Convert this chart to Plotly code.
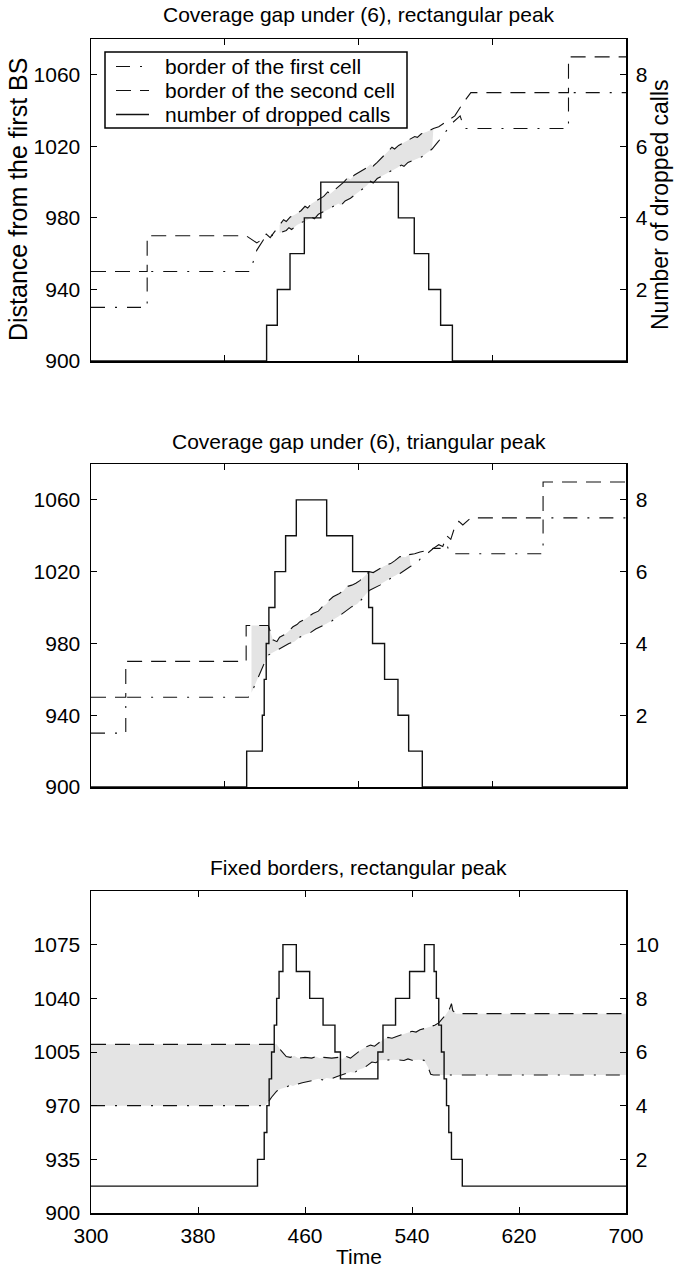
import plotly.graph_objects as go

# ---------------- data ----------------
# Panel 1: coverage gap under (6), rectangular peak
P1_FIRST_T = [300, 342, 342, 419, 424, 430, 433, 436, 441, 446, 448, 450, 454, 458, 462, 465, 467, 470, 474, 478,
              482, 485, 487, 490, 494, 498, 502, 506, 509, 511, 514, 519, 524, 529, 532, 534, 537, 542, 547, 551,
              555, 560, 565, 570, 576, 579, 657, 657, 700]
P1_FIRST_D = [930, 930, 950, 950, 962, 969, 971, 970, 971.5, 973, 974.5, 973.5, 976, 977.5, 979, 980.5, 979.5, 982, 983.5, 985,
              986.5, 988, 987, 989.5, 991, 993, 995.5, 998, 1000.5, 999.5, 1002, 1004, 1006, 1008, 1009.5, 1008.8, 1011, 1012.5, 1014, 1016,
              1018.5, 1023, 1028, 1033, 1037, 1030, 1030, 1050, 1050]
P1_SECOND_T = [300, 342, 342, 416, 424, 428, 431, 434, 437, 441, 444, 446, 449, 453, 457, 460, 462, 465, 470, 474,
               477, 479, 482, 486, 489, 492, 494, 497, 502, 506, 509, 511, 514, 518, 522, 525, 527, 530, 535, 539,
               542, 544, 547, 552, 556, 560, 566, 572, 578, 584, 657, 657, 700]
P1_SECOND_D = [950, 950, 970, 970, 966, 968, 971, 969, 972, 976, 979, 978, 980.5, 982, 984, 986.5, 985.5, 988, 990, 992,
               994.5, 993.5, 995.5, 998, 1000, 1002.5, 1001.5, 1004, 1006, 1008, 1010, 1009, 1011, 1014, 1017, 1019.5, 1018.5, 1020.5, 1022.5, 1024,
               1025.5, 1025, 1027, 1028.5, 1030, 1031, 1034, 1037, 1044, 1050, 1050, 1070, 1070]
P1_GAP = (441, 557)
P1_DROP_T = [300, 431.3, 439.3, 448.8, 459.5, 471.8, 529.8, 541.7, 552.5, 561.4, 570.2, 700]
P1_DROP_N = [0, 1, 2, 3, 4, 5, 4, 3, 2, 1, 0, 0]

# Panel 2: coverage gap under (6), triangular peak
P2_FIRST_T = [300, 326, 326, 417.6, 420, 423, 426, 429, 432.6, 436, 441, 445, 448, 452, 456, 460, 464, 468, 472, 476,
              480, 485, 490, 495, 499, 503, 508, 512, 516, 520, 524, 528, 531, 535, 539, 543, 547, 552, 556, 560,
              564, 566, 568, 570, 638, 638, 700]
P2_FIRST_D = [930, 930, 950, 950, 952.5, 958, 963, 968, 973.5, 975, 977, 978.5, 980, 981, 983.5, 985, 986, 988, 989.5, 991,
              992.5, 995, 998, 1000.5, 1002, 1005, 1009.5, 1011, 1012.5, 1014.5, 1016.5, 1018, 1019, 1021, 1023, 1024, 1028, 1030.5, 1033, 1033,
              1033, 1035, 1031, 1030, 1030, 1050, 1050]
P2_SECOND_T = [300, 326, 326, 416, 416, 420, 432.6, 436, 439, 441, 445, 448, 451, 454, 456, 460, 463, 466, 470, 473,
               476, 478, 481, 485, 489, 491, 495, 498, 501, 504, 506, 508, 511, 514, 516, 519, 521, 524, 527, 531,
               535, 538, 542, 546, 550, 553, 556, 560, 563, 566, 569, 572, 575, 578, 584, 638, 638, 700]
P2_SECOND_D = [950, 950, 970, 970, 990, 990, 990, 982, 981, 983.5, 985, 987, 989.3, 990.5, 992, 993.5, 995, 996.7, 998, 1000.5,
               1002, 1004, 1006, 1007.5, 1009.5, 1011.6, 1012.5, 1013.5, 1015, 1017.2, 1019, 1020, 1019.5, 1021, 1022, 1023, 1023.7, 1024.5, 1026, 1028.4,
               1028, 1029.5, 1030, 1031, 1031.5, 1032.5, 1033, 1035, 1034, 1040, 1038, 1045, 1048, 1046, 1050, 1050, 1070, 1070]
P2_GAP = (420, 540)
P2_DROP_T = [300, 416.4, 428.1, 429.5, 431, 433, 437.5, 445.5, 453.5, 476.2, 495.6, 507.6, 510.5, 519.5, 529.5, 537.5, 547.7, 700]
P2_DROP_N = [0, 1, 2, 3, 4, 5, 6, 7, 8, 7, 6, 5, 4, 3, 2, 1, 0, 0]

# Panel 3: fixed borders, rectangular peak
P3_FIRST_T = [300, 430, 432.6, 435, 438.8, 442, 446, 449, 451, 454, 458, 462, 466, 470, 473, 476, 480, 484, 488, 491,
              494, 497, 500, 504, 507, 510, 513, 516, 522, 528, 534, 537, 540, 545, 549, 552, 554, 556, 700]
P3_FIRST_D = [970, 970, 972.4, 975.5, 979.5, 981, 982, 983.5, 982.8, 984, 985, 986, 986.5, 987.5, 986.8, 988, 987.6, 989, 990, 991,
              992, 991.5, 993.5, 994.5, 996.5, 998.5, 998, 999.6, 999.8, 1000, 999.5, 1000.5, 999.6, 1000, 999.6, 995, 990.5, 990, 990]
P3_SECOND_T = [300, 438.8, 442, 446, 449, 452, 455, 460, 465, 468, 471, 474, 480, 485, 488, 491, 494, 498, 502, 506,
               509, 512, 515, 519, 522, 525, 528, 533, 537, 540, 543, 546, 550, 554, 557, 560, 565, 568, 569.5, 570.5,
               573, 700]
P3_SECOND_D = [1010, 1010, 1006, 1002, 1001.5, 1002.5, 1001, 1001.5, 1001, 1002, 1001, 1001.5, 1001, 1001.5, 1000.5, 1002, 1001, 1004, 1006.5, 1008.5,
               1009.5, 1008.8, 1011, 1013.5, 1014.5, 1014, 1015, 1016.5, 1017.5, 1018.5, 1018, 1019.5, 1020.5, 1021.5, 1022.5, 1024, 1029, 1033, 1036.5, 1032,
               1030, 1030]
P3_GAP = (300, 700)
P3_DROP_T = [300, 424.5, 429.5, 431.5, 433.2, 435, 437, 438.8, 440.6, 443.5, 453.5, 463.5, 473.5, 482.4, 486.5,
             514.5, 518.3, 527.7, 538.2, 549.4, 556.5, 558.2, 560, 562, 564, 565.8, 567.5, 569.5, 577.6, 700]
P3_DROP_N = [1, 2, 3, 4, 5, 6, 7, 8, 9, 10, 9, 8, 7, 6, 5,
             6, 7, 8, 9, 10, 9, 8, 7, 6, 5, 4, 3, 2, 1, 1]

TITLES = ["Coverage gap under (6), rectangular peak",
          "Coverage gap under (6), triangular peak",
          "Fixed borders, rectangular peak"]
LEGEND_NAMES = ["border of the first cell", "border of the second cell", "number of dropped calls"]
Y_LABEL_LEFT = "Distance from the first BS"
Y_LABEL_RIGHT = "Number of dropped calls"
X_LABEL = "Time"

X_RANGE = [300, 700]
X_TICKS_TOP = [400, 500, 600]
X_TICKS_BOTTOM = [300, 380, 460, 540, 620, 700]
Y_RANGE_12 = [900, 1080]
Y2_RANGE_12 = [0, 9]
Y_TICKS_12 = [900, 940, 980, 1020, 1060]
Y2_TICKS_12 = [2, 4, 6, 8]
Y_RANGE_3 = [900, 1110]
Y2_RANGE_3 = [0, 12]
Y_TICKS_3 = [900, 935, 970, 1005, 1040, 1075]
Y2_TICKS_3 = [2, 4, 6, 8, 10]

# ---------------- layout geometry (pixels) ----------------
W, H = 675, 1273
PL, PR = 91, 626
PANEL_PX = [(39, 361), (464, 787), (891, 1213)]
FONT = "Liberation Sans"
FS = 21
INK = "#111111"
GAP_FILL = "#e4e4e4"
DASH_FIRST = "14px,10px,2px,10px"
DASH_SECOND = "15px,9px"
STYLES = [dict(color=INK, width=1.1, dash=DASH_FIRST),
          dict(color=INK, width=1.1, dash=DASH_SECOND),
          dict(color=INK, width=1.4, dash="solid")]


def fx(p):
    return p / W


def fy(p):
    return 1 - p / H


def band(tu, yu, tl, yl, lim):
    a, b = lim
    up = [(t, v) for t, v in zip(tu, yu) if a <= t <= b]
    lo = [(t, v) for t, v in zip(tl, yl) if a <= t <= b]
    xs = [t for t, _ in up] + [t for t, _ in reversed(lo)]
    ys = [v for _, v in up] + [v for _, v in reversed(lo)]
    return xs, ys


panels = [
    (P1_FIRST_T, P1_FIRST_D, P1_SECOND_T, P1_SECOND_D, P1_GAP, P1_DROP_T, P1_DROP_N),
    (P2_FIRST_T, P2_FIRST_D, P2_SECOND_T, P2_SECOND_D, P2_GAP, P2_DROP_T, P2_DROP_N),
    (P3_FIRST_T, P3_FIRST_D, P3_SECOND_T, P3_SECOND_D, P3_GAP, P3_DROP_T, P3_DROP_N),
]

fig = go.Figure()
for k, (ft, fd, st, sd, gap, dt, dn) in enumerate(panels):
    xa = "x" if k == 0 else f"x{k + 1}"
    ya = "y" if k == 0 else f"y{2 * k + 1}"
    yb = f"y{2 * k + 2}"
    gx, gy = band(st, sd, ft, fd, gap)
    fig.add_trace(go.Scatter(x=gx, y=gy, mode="lines", fill="toself", fillcolor=GAP_FILL,
                             line=dict(width=0, color=GAP_FILL), xaxis=xa, yaxis=ya,
                             showlegend=False, hoverinfo="skip"))
    fig.add_trace(go.Scatter(x=ft, y=fd, mode="lines", name=LEGEND_NAMES[0], line=STYLES[0],
                             xaxis=xa, yaxis=ya, showlegend=False, hoverinfo="skip"))
    fig.add_trace(go.Scatter(x=st, y=sd, mode="lines", name=LEGEND_NAMES[1], line=STYLES[1],
                             xaxis=xa, yaxis=ya, showlegend=False, hoverinfo="skip"))
    fig.add_trace(go.Scatter(x=dt, y=dn, mode="lines", name=LEGEND_NAMES[2], line_shape="hv",
                             line=STYLES[2], xaxis=xa, yaxis=yb, showlegend=False, hoverinfo="skip"))

axis_common = dict(showline=True, linecolor="black", linewidth=1.5, ticks="inside", ticklen=6,
                   tickwidth=1, tickcolor="black", showgrid=False, zeroline=False, automargin=False,
                   tickfont=dict(family=FONT, size=FS, color="black"), fixedrange=True)

layout = dict(width=W, height=H, margin=dict(l=0, r=0, t=0, b=0, pad=0),
              paper_bgcolor="white", plot_bgcolor="white", template="none", showlegend=False,
              font=dict(family=FONT, size=FS, color="black"))

for k in range(3):
    top, bot = PANEL_PX[k]
    xname = "xaxis" if k == 0 else f"xaxis{k + 1}"
    yname = "yaxis" if k == 0 else f"yaxis{2 * k + 1}"
    y2name = f"yaxis{2 * k + 2}"
    yref = "y" if k == 0 else f"y{2 * k + 1}"
    xref = "x" if k == 0 else f"x{k + 1}"
    last = k == 2
    layout[xname] = dict(axis_common, domain=[fx(PL), fx(PR)], anchor=yref, range=X_RANGE,
                         tickvals=X_TICKS_BOTTOM if last else X_TICKS_TOP,
                         showticklabels=last, mirror="ticks", ticklabelstandoff=3)
    layout[yname] = dict(axis_common, domain=[fy(bot), fy(top)], anchor=xref,
                         range=Y_RANGE_3 if last else Y_RANGE_12,
                         tickvals=Y_TICKS_3 if last else Y_TICKS_12, ticklabelstandoff=5)
    layout[y2name] = dict(axis_common, overlaying=yref, anchor=xref, side="right",
                          range=Y2_RANGE_3 if last else Y2_RANGE_12,
                          tickvals=Y2_TICKS_3 if last else Y2_TICKS_12, ticklabelstandoff=4)

# legend box drawn in panel 1 (paper coordinates)
LEG_BOX = (105, 52, 407, 128)
LEG_ROWS = [66.5, 90.5, 114.5]
LEG_SAMPLE = (116, 149)
LEG_TEXT_X = 163
shapes = [dict(type="rect", xref="paper", yref="paper", x0=fx(LEG_BOX[0]), x1=fx(LEG_BOX[2]),
               y0=fy(LEG_BOX[3]), y1=fy(LEG_BOX[1]), line=dict(color="black", width=1.5),
               fillcolor="white", layer="above")]
ann = []
for i, name in enumerate(LEGEND_NAMES):
    st = STYLES[i]
    shapes.append(dict(type="line", xref="paper", yref="paper", x0=fx(LEG_SAMPLE[0]), x1=fx(LEG_SAMPLE[1]),
                       y0=fy(LEG_ROWS[i]), y1=fy(LEG_ROWS[i]), layer="above",
                       line=dict(color=st["color"], width=st["width"], dash=st["dash"])))
    ann.append(dict(text=name, x=fx(LEG_TEXT_X), y=fy(LEG_ROWS[i]), xref="paper", yref="paper",
                    xanchor="left", yanchor="middle", showarrow=False,
                    font=dict(family=FONT, size=FS, color="black")))
layout["shapes"] = shapes

title_y = [14, 441, 867]
for k in range(3):
    ann.append(dict(text=TITLES[k], x=fx((PL + PR) / 2), y=fy(title_y[k]), xref="paper", yref="paper",
                    xanchor="center", yanchor="middle", showarrow=False,
                    font=dict(family=FONT, size=FS, color="black")))
ann.append(dict(text=Y_LABEL_LEFT, x=fx(18), y=fy(200), xref="paper", yref="paper", textangle=-90,
                xanchor="center", yanchor="middle", showarrow=False,
                font=dict(family=FONT, size=25, color="black")))
ann.append(dict(text=Y_LABEL_RIGHT, x=fx(660), y=fy(205), xref="paper", yref="paper", textangle=-90,
                xanchor="center", yanchor="middle", showarrow=False,
                font=dict(family=FONT, size=23, color="black")))
ann.append(dict(text=X_LABEL, x=fx((PL + PR) / 2), y=fy(1256), xref="paper", yref="paper",
                xanchor="center", yanchor="middle", showarrow=False,
                font=dict(family=FONT, size=FS, color="black")))
layout["annotations"] = ann

fig.update_layout(**layout)
fig.write_html("out.html", config={"displayModeBar": False, "staticPlot": True},
               post_script="document.body.style.margin='0';document.body.style.overflow='hidden';")
